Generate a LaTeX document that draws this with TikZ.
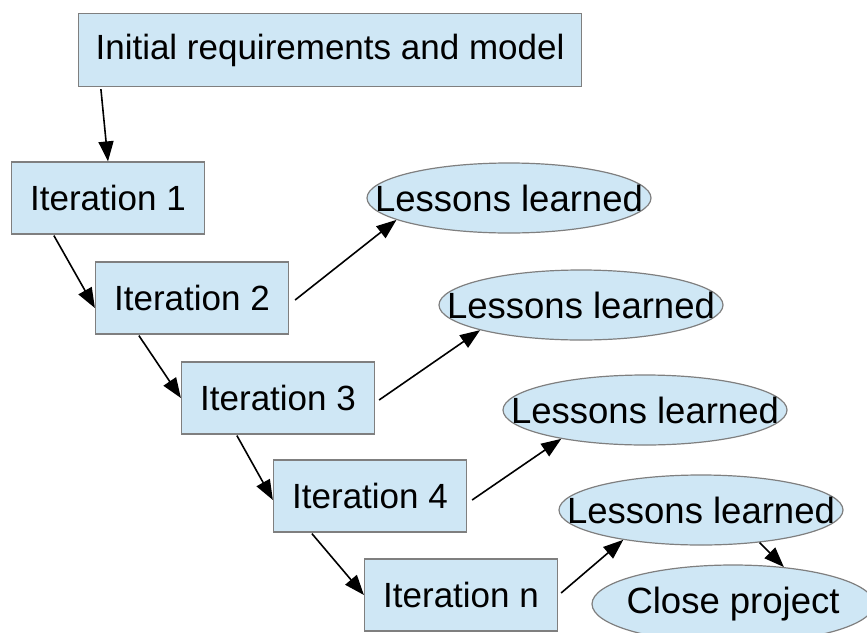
\documentclass[tikz,border=0pt]{standalone}
\usepackage{fontspec}
\setmainfont{Liberation Sans}
\usetikzlibrary{shapes.geometric,arrows.meta}
\definecolor{boxfill}{HTML}{CFE7F5}
\definecolor{boxline}{HTML}{7F7F7F}
\begin{document}
\begin{tikzpicture}[x=1pt,y=1pt,
  every node/.style={font=\fontsize{35}{42}\selectfont},
  stepbox/.style={draw=boxline, fill=boxfill, line width=1.2pt, inner sep=0pt,
    minimum width=193pt, minimum height=72pt},
  lesson/.style={draw=boxline, fill=boxfill, line width=1.2pt, ellipse, inner sep=0pt,
    minimum width=284pt, minimum height=70pt, font=\fontsize{36.5}{44}\selectfont},
  flow/.style={-{Triangle[length=20pt,width=15pt]}, line width=1.6pt, black}]
\useasboundingbox (0,0) rectangle (867,-632);
\clip (0,0) rectangle (867,-632);

% process boxes
\node[stepbox, minimum width=503pt, minimum height=73pt] (top) at (330,-50) {Initial requirements and model};
\node[stepbox] (it1) at (108,-198) {Iteration 1};
\node[stepbox] (it2) at (192,-298) {Iteration 2};
\node[stepbox] (it3) at (278,-398) {Iteration 3};
\node[stepbox] (it4) at (370,-496) {Iteration 4};
\node[stepbox] (itn) at (461,-595) {Iteration n};

% outcomes
\node[lesson] (ll1) at (509,-198) {\makebox[0pt]{Lessons learned}};
\node[lesson] (ll2) at (581,-305) {\makebox[0pt]{Lessons learned}};
\node[lesson] (ll3) at (645,-410) {\makebox[0pt]{Lessons learned}};
\node[lesson] (ll4) at (701,-510) {\makebox[0pt]{Lessons learned}};
\node[lesson, minimum width=282pt, minimum height=78pt] (close) at (733,-604) {\makebox[0pt]{Close project}};

% iteration chain
\draw[flow] ([xshift=23pt,yshift=-2pt]top.south west) -- (it1.north);
\draw[flow] ([xshift=43pt,yshift=-1pt]it1.south west) -- ([yshift=-10pt]it2.west);
\draw[flow] ([xshift=44pt,yshift=-1pt]it2.south west) -- (it3.west);
\draw[flow] ([xshift=56pt,yshift=-1pt]it3.south west) -- ([yshift=-4pt]it4.west);
\draw[flow] ([xshift=39pt,yshift=-1pt]it4.south west) -- (itn.west);

% feedback to lessons
\draw[flow] ([shift={(6pt,-2pt)}]it2.east) -- (ll1.191);
\draw[flow] ([shift={(4pt,-2pt)}]it3.east) -- (ll2.194);
\draw[flow] ([shift={(5pt,-4pt)}]it4.east) -- (ll3.199);
\draw[flow] ([shift={(3pt,2pt)}]itn.east) -- (ll4.201);
\draw[flow] (ll4.-29) -- (close.36);
\end{tikzpicture}
\end{document}
